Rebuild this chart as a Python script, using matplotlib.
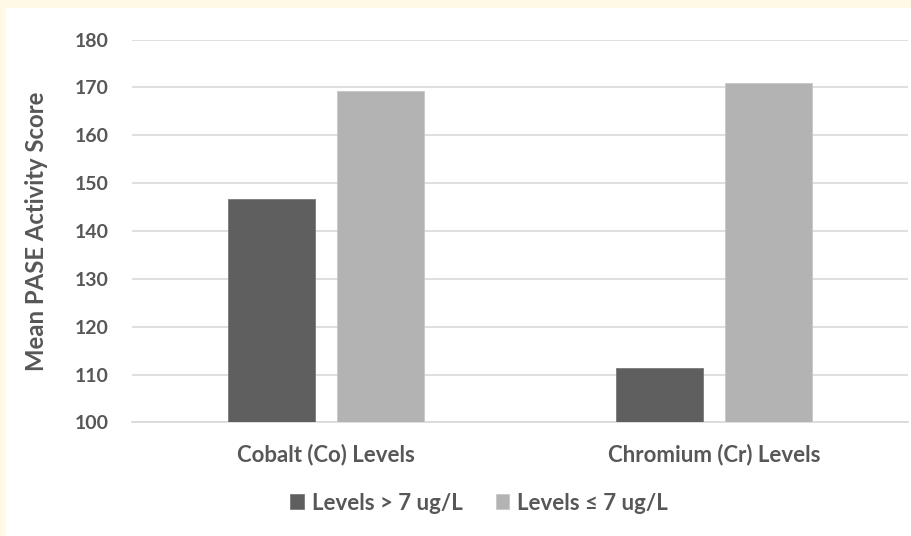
import numpy as np
import matplotlib
matplotlib.use("Agg")
import matplotlib.pyplot as plt

categories = ["Cobalt (Co) Levels", "Chromium (Cr) Levels"]
series_names = ["Levels > 7 ug/L", "Levels \u2264 7 ug/L"]
above_7 = [146.6, 111.3]
at_or_below_7 = [169.3, 170.9]
y_ticks = [100, 110, 120, 130, 140, 150, 160, 170, 180]

text_col = "#575757"
dark_col = "#5f5f5f"
light_col = "#b3b3b3"
grid_col = "#d9d9d9"

plt.rcParams["font.family"] = ["Lato", "DejaVu Sans"]
plt.rcParams["font.weight"] = "bold"
fs_tick = 14
fs_lab = 16

fig = plt.figure(figsize=(9.11, 5.36), dpi=100)
fig.patch.set_facecolor("#fff9e6")
# white chart area inset from the cream frame
fig.patches.append(plt.Rectangle((6 / 911, 0), 1, 1 - 8 / 536, transform=fig.transFigure,
                                 facecolor="white", edgecolor="none", zorder=-5))

ax = fig.add_axes([132 / 911, 0.2118, 776 / 911, 0.7145])
ax.set_zorder(2)
ax.set_facecolor("none")

x = np.arange(len(categories))
w = 0.224
off = 0.1415
ax.bar(x - off, above_7, width=w, color=dark_col, edgecolor="#7a7a7a", linewidth=0.6,
       label=series_names[0], zorder=3)
ax.bar(x + off, at_or_below_7, width=w, color=light_col, edgecolor="#c8c8c8", linewidth=0.6,
       label=series_names[1], zorder=3)

ax.set_xlim(-0.5, 1.5)
ax.set_ylim(100, 180)
ax.set_yticks(y_ticks)
ax.set_xticks(x)
ax.set_xticklabels(categories, fontsize=fs_lab)
ax.yaxis.grid(True, color=grid_col, linewidth=1.2, zorder=0)
ax.set_axisbelow(True)
for s in ["top", "right", "left"]:
    ax.spines[s].set_visible(False)
ax.spines["bottom"].set_color(grid_col)
ax.spines["bottom"].set_linewidth(1.2)
ax.tick_params(axis="both", length=0, labelcolor=text_col)
ax.tick_params(axis="y", pad=16.5, labelsize=fs_tick)
ax.tick_params(axis="x", pad=15)

ax.set_ylabel("Mean PASE Activity Score", fontsize=17.2, color=text_col, fontweight="bold")
ax.yaxis.set_label_coords(-84 / 776, 0.5)

fig.legend(loc="center", bbox_to_anchor=(479 / 911, 1 - 503 / 536), ncol=2, frameon=False,
           fontsize=fs_lab, labelcolor=text_col, handlelength=0.62, handleheight=0.62,
           handletextpad=0.35, columnspacing=1.5)

fig.savefig("out.png", dpi=100, facecolor=fig.get_facecolor())
